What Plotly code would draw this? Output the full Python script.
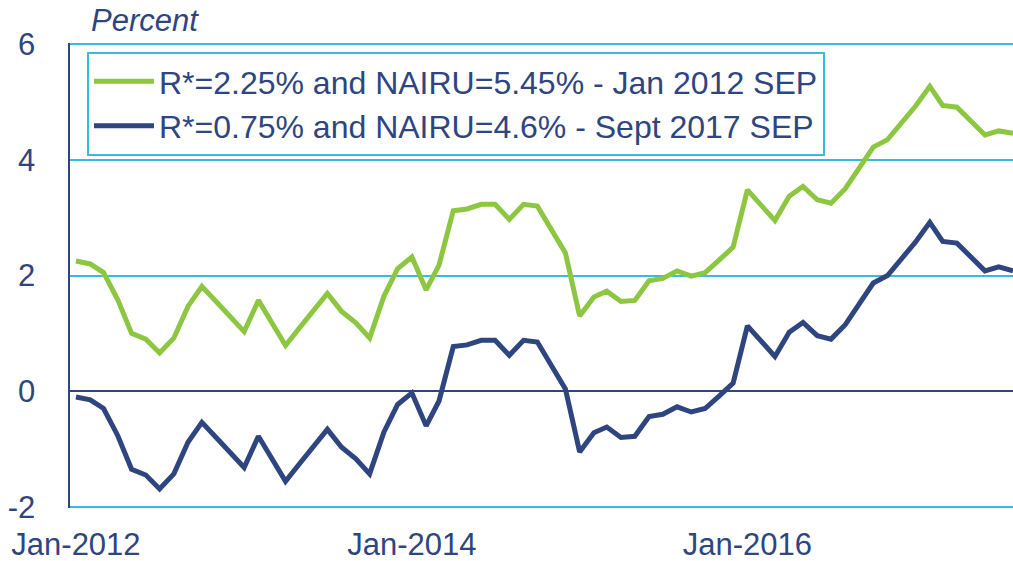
import pandas as pd
import plotly.graph_objects as go

months = pd.date_range("2012-01-01", "2017-08-01", freq="MS").strftime("%Y-%m-%d").tolist()

sep2017 = [-0.10, -0.15, -0.30, -0.77, -1.35, -1.45, -1.69, -1.43, -0.88, -0.54,
           -0.80, -1.06, -1.32, -0.78, -1.14, -1.56, -1.26, -0.96, -0.66, -0.97,
           -1.17, -1.43, -0.71, -0.23, -0.03, -0.60, -0.17, 0.77, 0.80, 0.88,
           0.88, 0.62, 0.88, 0.85, 0.45, 0.04, -1.05, -0.72, -0.62, -0.80,
           -0.78, -0.44, -0.40, -0.27, -0.36, -0.30, -0.08, 0.14, 1.13, 0.86,
           0.60, 1.02, 1.19, 0.96, 0.90, 1.15, 1.50, 1.87, 2.00, 2.29,
           2.58, 2.92, 2.59, 2.56, 2.32, 2.08, 2.15, 2.08]

jan2012 = [2.25, 2.20, 2.05, 1.58, 1.00, 0.90, 0.66, 0.92, 1.47, 1.81,
           1.55, 1.29, 1.03, 1.57, 1.21, 0.79, 1.09, 1.39, 1.69, 1.38,
           1.18, 0.92, 1.64, 2.12, 2.32, 1.75, 2.18, 3.12, 3.15, 3.23,
           3.23, 2.97, 3.23, 3.20, 2.80, 2.39, 1.30, 1.63, 1.73, 1.55,
           1.57, 1.91, 1.95, 2.08, 1.99, 2.05, 2.27, 2.49, 3.48, 3.21,
           2.95, 3.37, 3.54, 3.31, 3.25, 3.50, 3.85, 4.22, 4.35, 4.64,
           4.93, 5.27, 4.94, 4.91, 4.67, 4.43, 4.50, 4.46]

labels = ["R*=2.25% and NAIRU=5.45% - Jan 2012 SEP",
          "R*=0.75% and NAIRU=4.6% - Sept 2017 SEP"]
tick_vals = ["2012-01-01", "2014-01-01", "2016-01-01"]
tick_text = ["Jan-2012", "Jan-2014", "Jan-2016"]
y_ticks = [-2, 0, 2, 4, 6]
y_tick_text = ["-2", "0", "2", "4", "6"]

NAVY = "#2E4580"
GREEN = "#8DC641"
CYAN = "#3BBBDB"
FONT = "Arial, Liberation Sans, sans-serif"

fig = go.Figure()
fig.add_trace(go.Scatter(x=months, y=jan2012, mode="lines", name=labels[0],
                         line=dict(color=GREEN, width=5)))
fig.add_trace(go.Scatter(x=months, y=sep2017, mode="lines", name=labels[1],
                         line=dict(color=NAVY, width=5)))

fig.update_layout(
    width=1013, height=561,
    margin=dict(l=70, r=0, t=43, b=53, autoexpand=False),
    paper_bgcolor="white", plot_bgcolor="white",
    font=dict(family=FONT, color=NAVY, size=31),
    hovermode=False,
    showlegend=True,
    legend=dict(
        x=0.018, y=0.981, xanchor="left", yanchor="top",
        bgcolor="white", bordercolor=CYAN, borderwidth=2,
        font=dict(size=32, color=NAVY, family=FONT),
        itemwidth=60, tracegroupgap=0,
    ),
    annotations=[dict(
        text="<i>Percent</i>", xref="paper", yref="paper",
        x=0.02, y=1.048, xanchor="left", yanchor="middle",
        showarrow=False, font=dict(size=31, color=NAVY, family=FONT),
    )],
)

fig.update_xaxes(
    type="date", range=["2011-12-19", "2017-08-01"],
    tickvals=tick_vals, ticktext=tick_text,
    showgrid=False, zeroline=False, showline=False,
    ticks="", ticklabelstandoff=15, automargin=False,
    tickfont=dict(size=31, color=NAVY, family=FONT),
)
fig.update_yaxes(
    range=[-2.02, 6.02], tickvals=y_ticks, ticktext=y_tick_text,
    showgrid=True, gridcolor=CYAN, gridwidth=2,
    zeroline=True, zerolinecolor=NAVY, zerolinewidth=1.5,
    showline=True, linecolor=NAVY, linewidth=2.5,
    ticks="", ticklabelstandoff=26, automargin=False,
    tickfont=dict(size=31, color=NAVY, family=FONT),
)

fig.write_html(
    "out.html",
    config={"displayModeBar": False, "staticPlot": True},
    post_script="document.body.style.margin='0';document.body.style.overflow='hidden';",
)
